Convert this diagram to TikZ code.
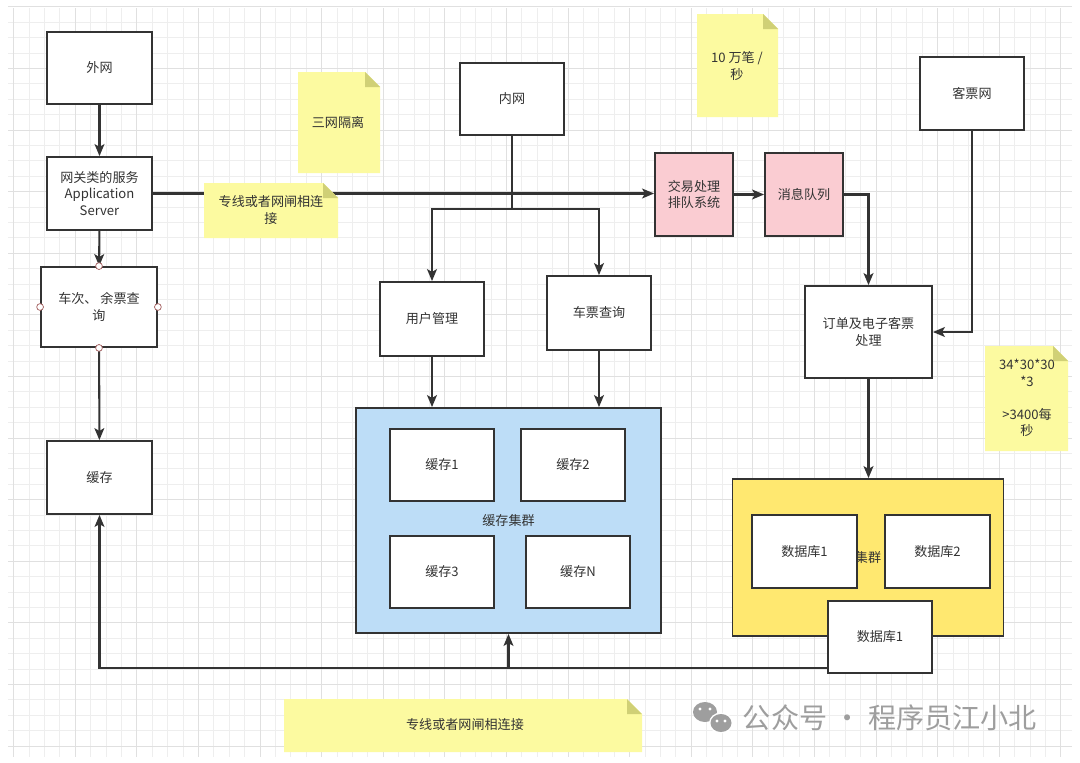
\documentclass[tikz,border=0pt]{standalone}
\usepackage{fontspec}
\setmainfont{Noto Sans CJK SC}
\definecolor{boxline}{RGB}{51,51,51}
\definecolor{gridminor}{RGB}{238,238,238}
\definecolor{gridmajor}{RGB}{224,224,224}
\definecolor{cachefill}{RGB}{189,221,247}
\definecolor{dbfill}{RGB}{255,232,112}
\definecolor{queuefill}{RGB}{250,204,210}
\definecolor{notefill}{RGB}{252,250,160}
\definecolor{notefold}{RGB}{208,208,118}
\definecolor{handle}{RGB}{160,90,90}
\definecolor{markgray}{RGB}{158,158,158}
\usetikzlibrary{arrows.meta}

% yellow sticky note, left top right bottom in px
\newcommand{\stickynote}[4]{%
  \fill[notefill] (#1,#2) -- ({#3-15},#2) -- (#3,{#2+15}) -- (#3,#4) -- (#1,#4) -- cycle;
  \fill[notefold] ({#3-15},#2) -- ({#3-15},{#2+15}) -- (#3,{#2+15}) -- cycle;}

\begin{document}
\begin{tikzpicture}[x=0.025cm,y=-0.025cm,
    font=\fontsize{9.3}{11.8}\selectfont,text=boxline,
    blk/.style={draw=boxline,line width=1.3pt,fill=white,inner sep=0pt,align=center},
    sz/.style 2 args={minimum width=#1*0.025cm,minimum height=#2*0.025cm},
    link/.style={draw=boxline,line width=1.45pt},
    arr/.style={link,-{Stealth[length=8.5pt,width=7pt,inset=2pt]}},
    dot/.style={circle,draw=handle,fill=white,line width=0.5pt,inner sep=0pt,minimum size=0.17cm}]
  % background grid
  \useasboundingbox (0,0) rectangle (1080,763);
  \fill[white] (0,0) rectangle (1080,763);
  \foreach \i in {0,...,68} \draw[gridminor,line width=0.5pt] ({13.6+15.4*\i},8) -- ({13.6+15.4*\i},757);
  \foreach \j in {0,...,48} \draw[gridminor,line width=0.5pt] (8,{6.7+15.4*\j}) -- (1072,{6.7+15.4*\j});
  \foreach \i in {0,...,17} \draw[gridmajor,line width=0.5pt] ({13.6+61.6*\i},8) -- ({13.6+61.6*\i},757);
  \foreach \j in {0,...,12} \draw[gridmajor,line width=0.5pt] (8,{6.7+61.6*\j}) -- (1072,{6.7+61.6*\j});

  % left column
  \node[blk,sz={105}{72}] (outer) at (99.5,68) {外网};
  \node[blk,sz={105}{73}] (gw) at (99.5,193.5) {网关类的服务\\Application\\Server};
  \node[blk,sz={116}{80}] (train) at (99,307) {车次、 余票查\\询};
  \node[blk,sz={105}{73}] (cache) at (99.5,477.5) {缓存};

  % middle
  \node[blk,sz={104}{72}] (inner) at (512,99) {内网};
  \node[blk,sz={104}{74}] (user) at (432,319) {用户管理};
  \node[blk,sz={104}{74}] (query) at (599,313) {车票查询};
  \node[blk,fill=cachefill,sz={305}{225}] (cc) at (508.5,520.5) {缓存集群};
  \node[blk,sz={104}{72}] (c1) at (442,465) {缓存1};
  \node[blk,sz={104}{72}] (c2) at (573,465) {缓存2};
  \node[blk,sz={104}{72}] (c3) at (442,572) {缓存3};
  \node[blk,sz={104}{72}] (cn) at (578,572) {缓存N};

  % right
  \node[blk,fill=queuefill,sz={78}{83}] (trade) at (694,194.5) {交易处理\\排队系统};
  \node[blk,fill=queuefill,sz={78}{83}] (mq) at (804,194.5) {消息队列};
  \node[blk,sz={104}{73}] (ticket) at (972,93.5) {客票网};
  \node[blk,sz={127}{92}] (order) at (868.5,332) {订单及电子客票\\处理};
  \node[blk,fill=dbfill,sz={271}{157}] (dbc) at (868,557.5) {集群};
  \node[blk,sz={105}{73}] (db1) at (804.5,551.5) {数据库1};
  \node[blk,sz={105}{73}] (db2) at (937.5,551.5) {数据库2};
  \node[blk,sz={104}{72}] (db1b) at (880,637) {数据库1};

  % connectors
  \draw[arr] (outer) -- (gw);
  \draw[arr] (gw) -- (train);
  \draw[arr] (train) -- (cache);
  \draw[arr] (gw.east) -- (gw.east -| trade.west);
  \draw[arr] (trade) -- (mq);
  \draw[arr] (mq.east) -| (order.north);
  \draw[arr] (ticket.south) |- (order.east);
  \draw[arr] (order) -- (order.south |- dbc.north);
  \draw[link] (inner.south) -- ++(0,73) coordinate (split);
  \draw[arr] (split) -| (user.north);
  \draw[arr] (split) -| (query.north);
  \draw[arr] (user) -- (user |- cc.north);
  \draw[arr] (query) -- (query |- cc.north);
  \path (db1b.south west) ++(0,-6) coordinate (ret);
  \draw[arr] (ret) -| (cache.south);
  \draw[arr] (ret -| cc.south) -- (cc.south);

  \foreach \a in {north,west,east,south} \node[dot] (h-\a) at (train.\a) {};

  % notes
  \stickynote{298}{72}{380}{173}
  \node (isonote) at (338,122) {三网隔离};
  \stickynote{204}{183}{338}{238}
  \node[align=center] (linknote) at (271,210) {专线或者网闸相连\\接};
  \stickynote{697}{14}{778}{117}
  \node[align=center] (ratenote) at (737,66) {10 万笔 /\\秒};
  \stickynote{985}{346}{1068}{451}
  \node[align=center] (calcnote) at (1027,398) {34*30*30\\*3\\[11.8pt]>3400每\\秒};
  \stickynote{284}{699}{642}{752}
  \node (bottomnote) at (465,725) {专线或者网闸相连接};

  % watermark
  \fill[markgray] (705,712) ellipse [x radius=12,y radius=10];
  \fill[white] (721,723) ellipse [x radius=12,y radius=10.5];
  \fill[markgray] (721,723) ellipse [x radius=10.5,y radius=9];
  \foreach \p in {(700,709),(710,709),(717,721),(725,721)} \fill[white] \p circle [radius=1.6];
  \node[text=markgray,font=\fontsize{20}{24}\selectfont,anchor=west] (mark) at (738,718) {公众号 · 程序员江小北};
\end{tikzpicture}
\end{document}
